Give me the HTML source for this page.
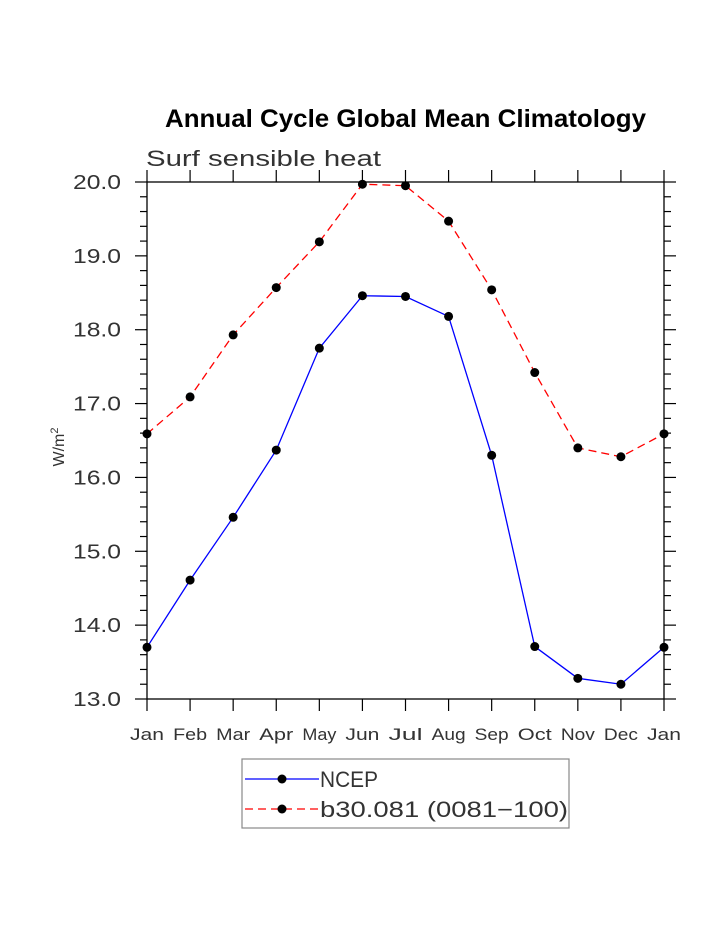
<!DOCTYPE html>
<html><head><meta charset="utf-8"><style>
body{margin:0;background:#fff;}
svg text{font-family:"Liberation Sans",sans-serif;}
</style></head><body>
<svg id="chart" width="723" height="935" viewBox="0 0 723 935">
<text x="165" y="127" textLength="481" lengthAdjust="spacingAndGlyphs" font-size="25" font-weight="bold" fill="#000">Annual Cycle Global Mean Climatology</text>
<text x="146" y="166" textLength="235" lengthAdjust="spacingAndGlyphs" font-size="22" fill="#333">Surf sensible heat</text>
<text transform="translate(64,447) rotate(-90)" text-anchor="middle" font-size="16" fill="#333">W/m<tspan dy="-6" font-size="11">2</tspan></text>
<g id="axes"></g>
<g id="series"></g>
<rect x="242" y="759" width="327" height="69" fill="none" stroke="#888" stroke-width="1.2"/>
<line x1="245" y1="779" x2="319" y2="779" stroke="#00f" stroke-width="1.3"/>
<circle cx="282" cy="779" r="4.5" fill="#000"/>
<text x="320" y="787" textLength="58" lengthAdjust="spacingAndGlyphs" font-size="22" fill="#333">NCEP</text>
<line x1="245" y1="809" x2="319" y2="809" stroke="#f00" stroke-width="1.3" stroke-dasharray="8,5"/>
<circle cx="282" cy="809" r="4.5" fill="#000"/>
<text x="320" y="817" textLength="248" lengthAdjust="spacingAndGlyphs" font-size="22" fill="#333">b30.081 (0081−100)</text>
</svg>
<script>
const months=["Jan","Feb","Mar","Apr","May","Jun","Jul","Aug","Sep","Oct","Nov","Dec","Jan"];
const ncep=[13.70,14.61,15.46,16.37,17.75,18.46,18.45,18.18,16.30,13.71,13.28,13.20,13.70];
const b30=[16.59,17.09,17.93,18.57,19.19,19.97,19.95,19.47,18.54,17.42,16.40,16.28,16.59];
const yTicks=[13,14,15,16,17,18,19,20];
const yTickLabels=["13.0","14.0","15.0","16.0","17.0","18.0","19.0","20.0"];
const L=147,R=664,T=182,B=699,ymin=13,ymax=20;
const NS="http://www.w3.org/2000/svg";
function xs(i){return L+(R-L)*i/(months.length-1);}
function ys(v){return B-(v-ymin)/(ymax-ymin)*(B-T);}
function mk(tag,attrs,parent){const e=document.createElementNS(NS,tag);for(const k in attrs)e.setAttribute(k,attrs[k]);parent.appendChild(e);return e;}
const ax=document.getElementById('axes');
let fr=mk('rect',{x:L,y:T,width:R-L,height:B-T,fill:'none',stroke:'#000','stroke-width':1.3},ax);


for(let v=ymin;v<=ymax+1e-6;v+=0.2){
  const y=ys(v);const major=Math.abs(v-Math.round(v))<1e-6;const len=major?12:7;
  let a=mk('line',{x1:L-len,y1:y,x2:L,y2:y,stroke:'#000','stroke-width':1.2},ax);
  
  
  let b=mk('line',{x1:R,y1:y,x2:R+len,y2:y,stroke:'#000','stroke-width':1.2},ax);
  
  
}
yTicks.forEach((v,i)=>{
  let t=mk('text',{x:73,y:ys(v)+7,textLength:48,lengthAdjust:'spacingAndGlyphs','font-size':20,fill:'#333'},ax);
  t.textContent=yTickLabels[i];
  
  
});
months.forEach((m,i)=>{
  const x=xs(i);
  let a=mk('line',{x1:x,y1:T-12,x2:x,y2:T,stroke:'#000','stroke-width':1.2},ax);
  
  
  let b=mk('line',{x1:x,y1:B,x2:x,y2:B+12,stroke:'#000','stroke-width':1.2},ax);
  
  
  let t=mk('text',{x:x-17,y:740,textLength:34,lengthAdjust:'spacingAndGlyphs','font-size':17,fill:'#333'},ax);
  t.textContent=m;
  
  
});
const sg=document.getElementById('series');
function draw(vals,color,dash,name){
  const pts=vals.map((v,i)=>xs(i)+','+ys(v)).join(' ');
  let p=mk('polyline',{points:pts,fill:'none',stroke:color,'stroke-width':1.3},sg);
  if(dash)p.setAttribute('stroke-dasharray',dash);
  
  
  vals.forEach((v,i)=>{
    let c=mk('circle',{cx:xs(i),cy:ys(v),r:4.5,fill:'#000'},sg);
    
    
  });
}
draw(ncep,'#00f',null,'ncep');
draw(b30,'#f00','8,5','b30');
</script>
</body></html>
